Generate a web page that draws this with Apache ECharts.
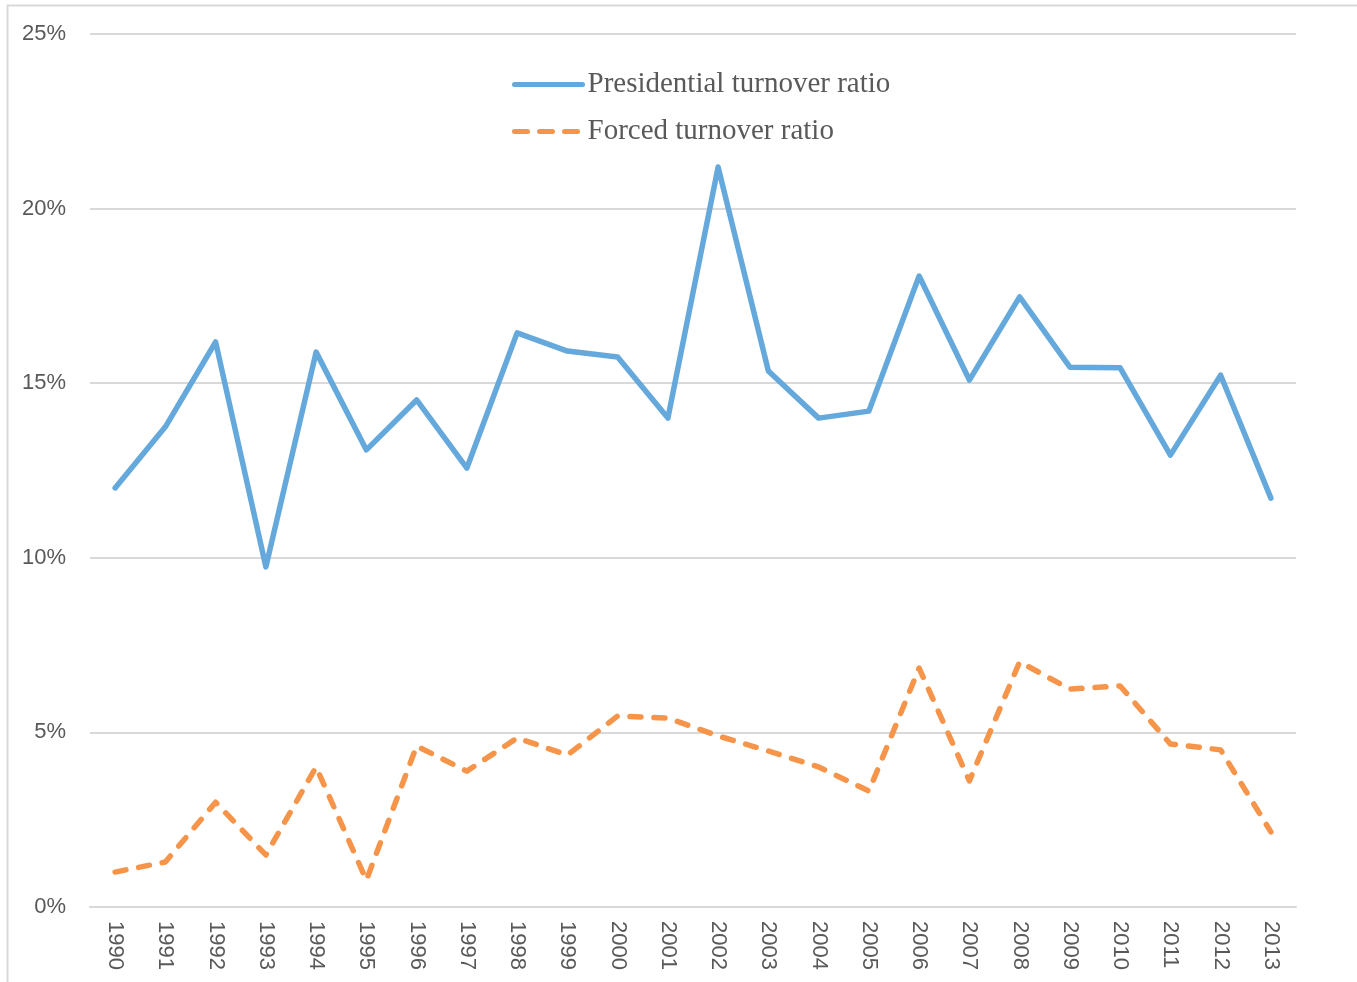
<!DOCTYPE html>
<html>
<head>
<meta charset="utf-8">
<script src="https://cdn.jsdelivr.net/npm/echarts@6/dist/echarts.min.js"></script>
<style>
  html, body { margin: 0; padding: 0; background: #fff; }
  #main { width: 1357px; height: 982px; }
</style>
</head>
<body>
<div id="main"></div>
<script>
// years on x axis
var years = ['1990', '1991', '1992', '1993', '1994', '1995', '1996', '1997', '1998', '1999', '2000', '2001',
  '2002', '2003', '2004', '2005', '2006', '2007', '2008', '2009', '2010', '2011', '2012', '2013']
// presidential turnover ratio (%)
var presidential = [12.0, 13.75, 16.18, 9.74, 15.89, 13.09, 14.52, 12.57, 16.44, 15.92, 15.75, 14.0,
  21.19, 15.35, 14.0, 14.2, 18.07, 15.09, 17.47, 15.46, 15.44, 12.94, 15.23, 11.71]
// forced turnover ratio (%)
var forced = [1.0, 1.29, 3.0, 1.49, 4.01, 0.77, 4.61, 3.89, 4.84, 4.35, 5.47, 5.41,
  4.9, 4.47, 4.01, 3.32, 6.84, 3.61, 7.02, 6.24, 6.33, 4.67, 4.5, 2.15]

var chartDom = document.getElementById('main')
var myChart = echarts.init(chartDom)
var colors = ['#65a9dc', '#f6954a']
var option = {
  animation: false,
  color: colors,
  graphic: [
    {
      // outer frame of the chart area
      type: 'rect',
      shape: { x: 7.5, y: 5.5, width: 1400, height: 1000 },
      style: { fill: 'none', stroke: '#d9d9d9', lineWidth: 2 },
      silent: true
    }
  ],
  legend: {
    orient: 'vertical',
    left: 507,
    top: 65,
    itemWidth: 68,
    itemHeight: 14,
    itemGap: 18,
    textStyle: {
      fontFamily: 'Liberation Serif',
      fontSize: 29,
      color: '#595959'
    },
    data: [
      {
        name: 'Presidential turnover ratio',
        itemStyle: { opacity: 0 },
        lineStyle: { width: 5, color: colors[0], cap: 'round' }
      },
      {
        name: 'Forced turnover ratio',
        itemStyle: { opacity: 0 },
        lineStyle: { width: 5, color: colors[1], type: [13, 12], cap: 'round' }
      }
    ]
  },
  grid: {
    left: 90,
    right: 61,
    top: 34,
    bottom: 75
  },
  xAxis: {
    type: 'category',
    data: years,
    boundaryGap: true,
    axisTick: { show: false },
    axisLine: { lineStyle: { color: '#d9d9d9', width: 2 } },
    axisLabel: {
      rotate: -90,
      margin: 14,
      fontFamily: 'Liberation Sans',
      fontSize: 22,
      color: '#595959'
    }
  },
  yAxis: {
    type: 'value',
    min: 0,
    max: 25,
    interval: 5,
    axisLine: { show: false },
    axisTick: { show: false },
    splitLine: { lineStyle: { color: '#d9d9d9', width: 2 } },
    axisLabel: {
      margin: 24,
      padding: [4, 0, 0, 0],
      fontFamily: 'Liberation Sans',
      fontSize: 22,
      color: '#595959',
      formatter: '{value}%'
    }
  },
  series: [
    {
      name: 'Presidential turnover ratio',
      type: 'line',
      data: presidential,
      symbol: 'none',
      lineStyle: { width: 5.5, color: colors[0], cap: 'round', join: 'round' }
    },
    {
      name: 'Forced turnover ratio',
      type: 'line',
      data: forced,
      symbol: 'none',
      lineStyle: { width: 5.5, color: colors[1], type: [11, 13], cap: 'round', join: 'round' }
    }
  ]
}
option && myChart.setOption(option)
</script>
</body>
</html>
